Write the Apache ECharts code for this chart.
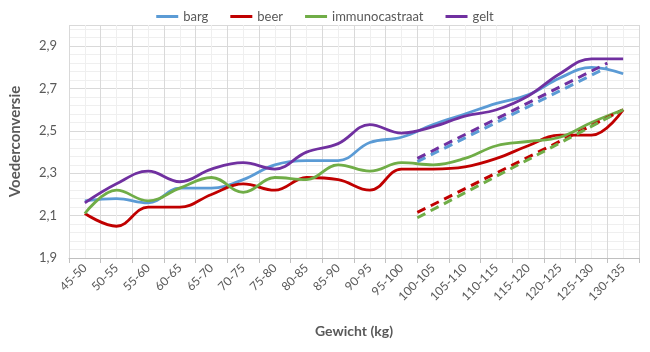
<!DOCTYPE html>
<html>
<head>
<meta charset="utf-8">
<script src="https://cdn.jsdelivr.net/npm/echarts@6/dist/echarts.min.js"></script>
<style>
    html, body { margin: 0; padding: 0; background: #fff; }
    #chart { width: 650px; height: 352px; }
</style>
</head>
<body>
<div id="chart"></div>
<script>
    // categorieen (gewichtsklassen)
    var categories = ['45-50', '50-55', '55-60', '60-65', '65-70', '70-75', '75-80', '80-85', '85-90',
        '90-95', '95-100', '100-105', '105-110', '110-115', '115-120', '120-125', '125-130', '130-135'];

    // voederconversie per groep
    var barg = [2.17, 2.18, 2.16, 2.23, 2.23, 2.27, 2.34, 2.36, 2.36, 2.445, 2.47, 2.53, 2.58, 2.63, 2.67, 2.75, 2.80, 2.77];
    var beer = [2.11, 2.05, 2.14, 2.14, 2.20, 2.25, 2.22, 2.28, 2.27, 2.22, 2.32, 2.32, 2.33, 2.37, 2.43, 2.48, 2.48, 2.60];
    var immunocastraat = [2.11, 2.22, 2.17, 2.23, 2.28, 2.21, 2.28, 2.27, 2.34, 2.31, 2.35, 2.34, 2.37, 2.43, 2.45, 2.47, 2.54, 2.60];
    var gelt = [2.16, 2.25, 2.31, 2.26, 2.32, 2.35, 2.32, 2.40, 2.44, 2.53, 2.49, 2.52, 2.57, 2.60, 2.665, 2.77, 2.84, 2.84];

    // gestippelde lijnen (x in klasse-eenheden, 0 = linkerrand)
    var bargTrend = [[11, 2.355], [17, 2.80]];
    var beerTrend = [[11, 2.115], [17.5, 2.60]];
    var immunoTrend = [[11, 2.09], [17.5, 2.60]];
    var geltTrend = [[11, 2.37], [17, 2.82]];

    var colors = {
        barg: '#5B9BD5',
        beer: '#C00000',
        immunocastraat: '#70AD47',
        gelt: '#7030A0'
    };

    var chart = echarts.init(document.getElementById('chart'));
    var font = 'Lato, "Open Sans", sans-serif';
    var textColor = '#595959';

    function solid(name, data) {
        return {
            name: name,
            type: 'line',
            data: data,
            smooth: 0.4,
            showSymbol: false,
            symbol: 'none',
            lineStyle: { color: colors[name], width: 2.8 },
            itemStyle: { color: colors[name] },
            z: 3
        };
    }

    function dashed(name, data) {
        return {
            name: name + ' trend',
            type: 'line',
            xAxisIndex: 1,
            yAxisIndex: 0,
            data: data,
            showSymbol: false,
            symbol: 'none',
            lineStyle: { color: colors[name], width: 3, type: [9, 6] },
            itemStyle: { color: colors[name] },
            z: 4
        };
    }

    var option = {
        backgroundColor: '#fff',
        animation: false,
        textStyle: { fontFamily: font },
        legend: {
            data: ['barg', 'beer', 'immunocastraat', 'gelt'],
            left: 'center',
            top: 5,
            icon: 'rect',
            itemWidth: 22,
            itemHeight: 3,
            itemGap: 22,
            textStyle: { color: textColor, fontSize: 13, fontFamily: font }
        },
        grid: { left: 64, right: 11, top: 25, bottom: 94 },
        xAxis: [{
            type: 'category',
            data: categories,
            boundaryGap: true,
            name: 'Gewicht (kg)',
            nameLocation: 'middle',
            nameGap: 66,
            nameTextStyle: { color: textColor, fontSize: 14, fontWeight: 'bold', fontFamily: font },
            axisLine: { lineStyle: { color: '#bfbfbf', width: 1 } },
            axisTick: { show: true, length: 5, lineStyle: { color: '#bfbfbf' } },
            axisLabel: { rotate: 45, color: textColor, fontSize: 12, margin: 8, fontFamily: font },
            splitLine: { show: false }
        }, {
            // alleen voor rasterlijnen en gestippelde lijnen
            type: 'value',
            min: 0,
            max: 18,
            interval: 1,
            show: true,
            axisLine: { show: false },
            axisTick: { show: false },
            axisLabel: { show: false },
            splitLine: { show: true, lineStyle: { color: '#d9d9d9', width: 1 } },
            minorTick: { show: false, splitNumber: 2 },
            minorSplitLine: { show: true, lineStyle: { color: '#efefef', width: 1 } }
        }],
        yAxis: [{
            type: 'value',
            min: 1.9,
            max: 3.0,
            interval: 0.1,
            name: 'Voederconversie',
            nameLocation: 'middle',
            nameGap: 46,
            nameTextStyle: { color: textColor, fontSize: 15, fontWeight: 'bold', fontFamily: font },
            axisLine: { show: false },
            axisTick: { show: false },
            axisLabel: {
                color: textColor,
                fontSize: 13,
                margin: 12,
                fontFamily: font,
                formatter: function(v) {
                    var t = Math.round(v * 10);
                    if (t % 2 === 0) return '';
                    return (t / 10).toFixed(1).replace('.', ',');
                }
            },
            splitLine: { show: false }
        }, {
            // rasterlijnen: 0 = 1,9 ; stap 1 = 0,2
            type: 'value',
            min: 0,
            max: 5.5,
            interval: 1,
            position: 'left',
            axisLine: { show: false },
            axisTick: { show: false },
            axisLabel: { show: false },
            splitLine: { show: true, lineStyle: { color: '#d9d9d9', width: 1 } },
            minorTick: { show: false, splitNumber: 5 },
            minorSplitLine: { show: true, lineStyle: { color: '#efefef', width: 1 } }
        }],
        series: [
            solid('barg', barg),
            solid('beer', beer),
            solid('immunocastraat', immunocastraat),
            solid('gelt', gelt),
            dashed('barg', bargTrend),
            dashed('beer', beerTrend),
            dashed('immunocastraat', immunoTrend),
            dashed('gelt', geltTrend)
        ]
    };

    chart.setOption(option);
</script>
</body>
</html>
